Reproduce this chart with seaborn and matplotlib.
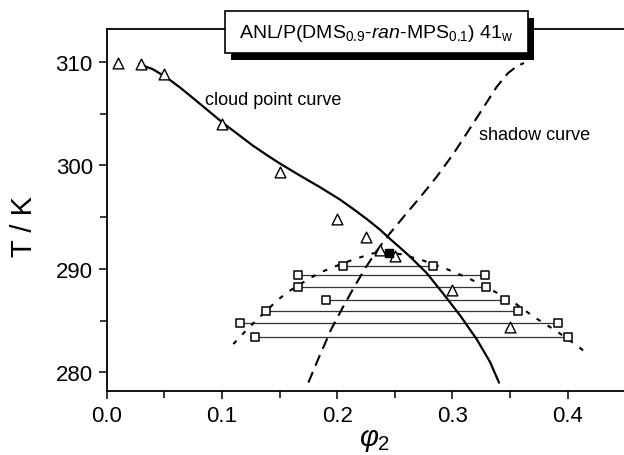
import matplotlib
matplotlib.use("Agg")
import matplotlib.pyplot as plt
import seaborn as sns
import pandas as pd
from matplotlib.patches import Rectangle
from matplotlib.ticker import MultipleLocator

# ---------------- data ----------------
# cloud points (open triangles)
cp_phi = [0.01, 0.03, 0.05, 0.10, 0.15, 0.20, 0.225, 0.237, 0.25, 0.30, 0.35]
cp_T = [309.9, 309.8, 308.8, 304.0, 299.4, 294.8, 293.1, 291.8, 291.2, 288.0, 284.4]

# critical point (filled square)
crit_phi = [0.245]
crit_T = [291.5]

# coexisting phases joined by tie lines (open squares)
tie_T = [290.3, 289.4, 288.2, 287.0, 285.95, 284.8, 283.4]
tie_left = [0.205, 0.166, 0.166, 0.190, 0.138, 0.116, 0.129]
tie_right = [0.283, 0.328, 0.329, 0.346, 0.357, 0.392, 0.400]

# cloud point curve (solid)
cloud_phi = [0.028, 0.040, 0.052, 0.064, 0.075, 0.088, 0.101, 0.114, 0.127,
             0.139, 0.150, 0.168, 0.185, 0.2024, 0.215, 0.227, 0.237, 0.2458,
             0.255, 0.263, 0.2776, 0.292, 0.3066, 0.321, 0.3326, 0.3404]
cloud_T = [309.8, 309.3, 308.5, 307.5, 306.5, 305.3, 304.1, 303.0, 301.9,
           301.0, 300.2, 299.0, 297.9, 296.7, 295.7, 294.7, 293.8, 292.9,
           292.0, 291.2, 289.6, 287.6, 285.5, 283.2, 281.0, 279.0]

# shadow curve (dashed)
shadow_phi = [0.175, 0.1836, 0.195, 0.204, 0.214, 0.224, 0.234, 0.2455, 0.2574,
              0.2718, 0.2863, 0.3007, 0.3124, 0.324, 0.3384, 0.348, 0.356, 0.362]
shadow_T = [279.0, 281.3, 284.2, 286.1, 288.1, 290.0, 291.7, 293.4, 295.0,
            296.9, 298.9, 301.1, 303.1, 305.1, 307.6, 308.9, 309.6, 309.9]

# coexistence curve (dotted)
coex_phi = [0.1099, 0.1194, 0.1287, 0.1475, 0.1562, 0.1764, 0.1865, 0.195, 0.214,
            0.231, 0.245, 0.256, 0.2747, 0.2935, 0.3138, 0.3326, 0.3528, 0.370,
            0.390, 0.409, 0.418]
coex_T = [282.73, 283.86, 284.9, 286.9, 287.7, 289.1, 289.7, 290.1, 290.9,
          291.5, 291.6, 291.4, 290.8, 290.05, 289.1, 288.05, 286.8, 285.4,
          284.0, 282.5, 281.7]

x_ticks = [0.0, 0.1, 0.2, 0.3, 0.4]
y_ticks = [280, 290, 300, 310]
title_text = r"ANL/P(DMS$_{0.9}$-$\mathit{ran}$-MPS$_{0.1}$) 41$_{\mathrm{w}}$"

# ---------------- style ----------------
sns.set_theme(style="ticks")
plt.rcParams["font.family"] = ["Liberation Sans", "DejaVu Sans"]
plt.rcParams["mathtext.fontset"] = "custom"
plt.rcParams["mathtext.rm"] = "Liberation Sans"
plt.rcParams["mathtext.it"] = "Liberation Sans:italic"
plt.rcParams["mathtext.bf"] = "Liberation Sans:bold"
for key in ["text.color", "axes.labelcolor", "xtick.color", "ytick.color",
            "axes.edgecolor"]:
    plt.rcParams[key] = "black"

W, H = 624, 456
fig = plt.figure(figsize=(W / 100, H / 100), dpi=100)
left_px, right_px, top_px, bottom_px = 106.7, 624, 30, 392.3
ax = fig.add_axes([left_px / W, 1 - bottom_px / H,
                   (right_px - left_px) / W, (bottom_px - top_px) / H])

# curves
sns.lineplot(x=cloud_phi, y=cloud_T, ax=ax, sort=False, estimator=None,
             color="black", lw=1.6, zorder=3)
sns.lineplot(x=shadow_phi, y=shadow_T, ax=ax, sort=False, estimator=None,
             color="black", lw=1.5, linestyle=(0, (5.5, 3.3)), zorder=3)
sns.lineplot(x=coex_phi, y=coex_T, ax=ax, sort=False, estimator=None,
             color="black", lw=1.5, linestyle=(0, (2.2, 4.0)), zorder=3)

# tie lines
ax.hlines(tie_T, tie_left, tie_right, color="#333333", lw=0.9, zorder=2)

# markers
tie_df = pd.DataFrame({"phi": tie_left + tie_right, "T": tie_T + tie_T})
sns.scatterplot(data=tie_df, x="phi", y="T", ax=ax, marker="s", s=40,
                facecolor="white", edgecolor="black", linewidth=1.1, zorder=4)
sns.scatterplot(x=cp_phi, y=cp_T, ax=ax, marker="^", s=60,
                facecolor="white", edgecolor="black", linewidth=1.0, zorder=5)
sns.scatterplot(x=crit_phi, y=crit_T, ax=ax, marker="s", s=40,
                color="black", edgecolor="black", linewidth=1.0, zorder=6)

# axes
ax.set_xlim(0, (right_px - left_px) / 1152.5)
ax.set_ylim(278.16, 313.19)
ax.set_xticks(x_ticks)
ax.set_xticklabels([f"{v:.1f}" for v in x_ticks])
ax.set_yticks(y_ticks)
ax.xaxis.set_minor_locator(MultipleLocator(0.05))
ax.yaxis.set_minor_locator(MultipleLocator(5))
ax.tick_params(which="both", direction="out", width=1.1, colors="black",
               labelsize=16, pad=4)
ax.tick_params(which="major", length=6)
ax.tick_params(which="minor", length=5)
for side in ["left", "bottom", "top"]:
    ax.spines[side].set_linewidth(1.3)
    ax.spines[side].set_color("black")
ax.spines["right"].set_visible(False)

ax.set_xlabel(r"$\varphi_2$", fontsize=21, va="center")
ax.set_ylabel("T / K", fontsize=21, va="center")
ax.xaxis.set_label_coords((375 - left_px) / (right_px - left_px),
                          1 - (440 - top_px) / (bottom_px - top_px))
ax.yaxis.set_label_coords((24 - left_px) / (right_px - left_px),
                          1 - (227 - top_px) / (bottom_px - top_px))

# annotations
ax.text(0.085, 306.4, "cloud point curve", fontsize=13, va="center", ha="left")
ax.text(0.323, 302.95, "shadow curve", fontsize=13, va="center", ha="left")

# title box with drop shadow (pixel geometry of the box)
bx0, bx1, by0, by1 = 225, 528, 12, 54
sdx, sdy = 6, 7
shadow = Rectangle(((bx0 + sdx) / W, 1 - (by1 + sdy) / H),
                   (bx1 - bx0) / W, (by1 - by0) / H,
                   transform=fig.transFigure, facecolor="black",
                   edgecolor="black", lw=0, zorder=10)
box = Rectangle((bx0 / W, 1 - by1 / H), (bx1 - bx0) / W, (by1 - by0) / H,
                transform=fig.transFigure, facecolor="white",
                edgecolor="black", lw=1.2, zorder=11)
fig.add_artist(shadow)
fig.add_artist(box)
fig.text((bx0 + bx1) / 2 / W, 1 - 34 / H, title_text, fontsize=14,
         ha="center", va="center", zorder=12)

fig.savefig("out.png", dpi=100)
